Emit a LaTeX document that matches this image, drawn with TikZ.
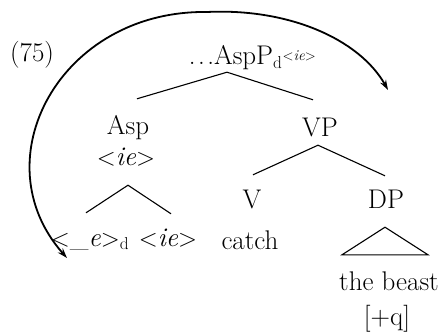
\documentclass[tikz,border=0pt]{standalone}
\usetikzlibrary{arrows.meta}
\begin{document}
\begin{tikzpicture}[
    x=1pt, y=1pt,
    every node/.style={inner sep=0pt, anchor=base, font=\fontsize{27}{32}\selectfont},
    lab/.style={text height=16.5pt, text depth=5pt},
    branch/.style={line width=1.1pt},
    roof/.style={line width=1.1pt, line join=miter},
    move/.style={line width=1.8pt, {Stealth[length=10pt,width=6.5pt]}-{Stealth[length=10pt,width=6.5pt]}},
  ]
  \useasboundingbox (0,0) rectangle (443,-331);
  \node (ex) at (32,-62) {(75)};
  \node[lab] (aspp) at (231,-65) {.\kern2.5pt.\kern2.5pt.AspP\rlap{$_{\mathrm{d}}$\raisebox{4pt}{\fontsize{15}{16}\selectfont$<$\textit{ie}$>$}}};
  \node[lab] (asp) at (128,-135) {Asp};
  \node[lab] (aspf) at (126,-165) {$<$\textit{ie}$>$};
  \node[lab] (vp) at (320,-136) {VP};
  \node[lab] (gap) at (90,-246) {$<$\_\textit{e}$>$$_{\mathrm{d}}$};
  \node[lab] (ief) at (168,-246) {$<$\textit{ie}$>$};
  \node[lab] (v) at (252,-208) {V};
  \node[lab] (dp) at (386,-208) {DP};
  \node[lab] (catch) at (250,-249) {catch};
  \node[lab] (beast) at (389,-290) {the beast};
  \node[lab] (q) at (387,-325) {[+q]};
  \coordinate (movefrom) at (67,-258);
  \coordinate (moveto) at (388,-90);

  \draw[branch] ([shift={(9,19.5)}]asp.north) -- ([shift={(-4,-2)}]aspp.south)
    -- ([shift={(-7,19.5)}]vp.north);
  \draw[branch] ([shift={(-4,16.5)}]gap.north) -- ([shift={(2,-15)}]aspf.south)
    -- ([shift={(3,15.5)}]ief.north);
  \draw[branch] ([shift={(1,16.5)}]v.north) -- ([shift={(-2,-4)}]vp.south)
    -- ([shift={(-1,15.5)}]dp.north);
  \draw[roof] ([shift={(-1,-14)}]dp.south) -- ([shift={(-47,18.5)}]beast.north)
    -- ([shift={(39,18.5)}]beast.north) -- cycle;

  \draw[move] (movefrom) .. controls (-20,-160) and (60,-10) .. (207,-12)
    .. controls (290,-8) and (360,-40) .. (moveto);
\end{tikzpicture}
\end{document}
